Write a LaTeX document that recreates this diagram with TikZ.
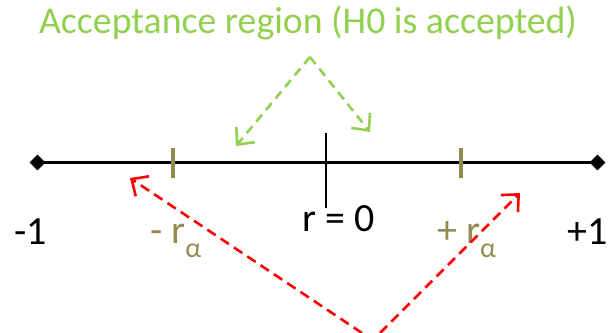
\documentclass[tikz,border=0pt]{standalone}
\usepackage{fontspec}
\setmainfont{Carlito}
\usetikzlibrary{arrows.meta, shapes.geometric}

\definecolor{accgreen}{HTML}{92D050}
\definecolor{tickbrown}{HTML}{948A54}
\newcommand{\alphasub}{\raisebox{-14pt}{\fontsize{28}{30}\selectfont α}}

\begin{document}
\begin{tikzpicture}[
    x=1pt, y=-1pt,
    endmark/.style={diamond, fill=black, inner sep=0pt, minimum width=16pt, minimum height=16pt},
    lbl/.style={inner sep=0pt, font=\fontsize{40}{44}\selectfont},
    ttl/.style={inner sep=0pt, font=\fontsize{37.8}{42}\selectfont, text=accgreen},
    greenarrow/.style={-{Straight Barb[length=13pt, width=24pt]}, line width=2.6pt, accgreen, dash pattern=on 9pt off 6pt},
    redarrow/.style={-{Straight Barb[length=13pt, width=24pt]}, line width=2.6pt, red, dash pattern=on 10pt off 6pt},
    alphatick/.style={line width=3.8pt, tickbrown}
]
\useasboundingbox (0,0) rectangle (615,332);

% axis with diamond ends
\node[endmark] (lend) at (37.5,162.5) {};
\node[endmark] (rend) at (597.5,162.5) {};
\draw[line width=3pt] (lend.center) -- (rend.center);

% ticks
\coordinate (zero) at (325.7,162.5);
\coordinate (mra) at (173,162.5);
\coordinate (pra) at (461,162.5);
\draw[line width=2.2pt] ([yshift=-45pt]zero) -- ([yshift=30pt]zero);
\draw[alphatick] ([yshift=-15pt]mra) -- ([yshift=15pt]mra);
\draw[alphatick] ([yshift=-15pt]pra) -- ([yshift=15pt]pra);

% labels
\node[lbl, anchor=base west] (mone) at (14,244) {-1};
\node[lbl, anchor=base east] (pone) at (608,244) {+1};
\node[lbl, anchor=base west] (rzero) at (302,231) {r = 0};
\node[lbl, anchor=base west, text=tickbrown] (mlab) at (150,243) {- r\alphasub};
\node[lbl, anchor=base west, text=tickbrown] (plab) at (437,243) {+ r\alphasub};

% acceptance region
\node[ttl, anchor=base] (title) at (308,33) {Acceptance region (H0 is accepted)};
\coordinate (apex) at (310,57);
\coordinate (gleft) at (236,146);
\coordinate (gright) at (370,132);
\draw[greenarrow] (apex) -- (gleft);
\draw[greenarrow] (apex) -- (gright);

% rejection regions
\coordinate (rstartl) at (362,333);
\coordinate (rstartr) at (380,333);
\coordinate (rleft) at (130,178);
\coordinate (rright) at (520,193);
\draw[redarrow] (rstartl) -- (rleft);
\draw[redarrow] (rstartr) -- (rright);

\end{tikzpicture}
\end{document}
